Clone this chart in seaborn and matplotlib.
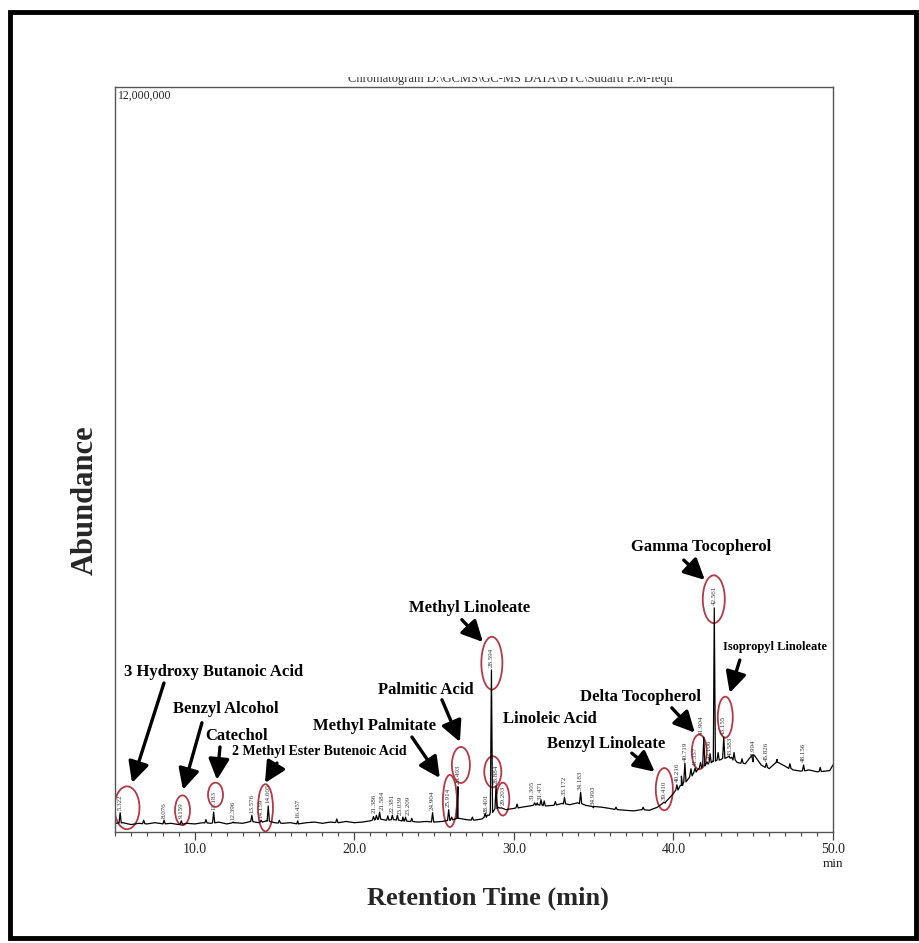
import numpy as np
import pandas as pd
import seaborn as sns
import matplotlib.pyplot as plt
from matplotlib.patches import Ellipse, Rectangle
from matplotlib.ticker import MultipleLocator, FixedLocator
from matplotlib.transforms import Bbox, TransformedBbox

# ---- baseline of the total ion chromatogram (time in min, abundance in millions)
baseline_time = [5.0, 5.5, 6.0, 6.5, 7.0, 7.5, 8.0, 8.5, 9.0, 9.5, 10.0, 10.5, 11.0, 11.5,
                 12.0, 12.5, 13.0, 13.5, 14.0, 14.5, 15.0, 15.5, 16.0, 16.5, 17.0, 17.5,
                 18.0, 18.5, 19.0, 19.5, 20.0, 20.5, 21.0, 21.5, 22.0, 22.5, 23.0, 23.5,
                 24.0, 24.5, 25.0, 25.5, 26.0, 26.5, 27.0, 27.5, 28.0, 28.3, 29.0, 29.5,
                 30.0, 30.5, 31.0, 31.5, 32.0, 32.5, 33.0, 33.5, 34.0, 34.5, 35.0, 35.5,
                 36.0, 36.5, 37.0, 37.5, 38.0, 38.5, 39.0, 39.5, 40.0, 40.5, 41.0, 41.5,
                 42.0, 42.5, 43.0, 43.5, 44.0, 44.5, 45.0, 45.5, 46.0, 46.5, 47.0, 47.5,
                 48.0, 48.5, 49.0, 49.5, 49.8, 50.0]
baseline_level = [0.14, 0.15, 0.12, 0.14, 0.13, 0.15, 0.13, 0.14, 0.12, 0.14, 0.13, 0.15, 0.14, 0.16,
                  0.13, 0.15, 0.14, 0.17, 0.15, 0.18, 0.15, 0.14, 0.15, 0.13, 0.15, 0.16,
                  0.14, 0.16, 0.15, 0.17, 0.15, 0.16, 0.18, 0.21, 0.19, 0.20, 0.18, 0.17,
                  0.16, 0.17, 0.16, 0.17, 0.19, 0.22, 0.20, 0.19, 0.21, 0.25, 0.40, 0.36,
                  0.38, 0.40, 0.42, 0.44, 0.42, 0.43, 0.46, 0.44, 0.47, 0.43, 0.41, 0.40,
                  0.38, 0.36, 0.35, 0.34, 0.36, 0.35, 0.40, 0.48, 0.62, 0.75, 0.88, 1.00,
                  1.08, 1.14, 1.17, 1.22, 1.12, 1.10, 1.24, 1.08, 1.02, 1.12, 1.06, 1.00,
                  0.98, 1.00, 0.97, 0.98, 0.99, 1.08]

# ---- integrated peaks: retention time and apex abundance (millions)
peak_time = [5.322, 8.076, 9.159, 11.183, 12.396, 13.576, 14.159, 14.605, 16.457,
             21.386, 21.584, 22.381, 23.039, 23.209, 24.904, 25.914, 26.493, 28.401,
             28.594, 28.884, 29.203, 31.305, 31.471, 33.172, 34.183, 34.993, 39.410,
             40.216, 40.719, 41.357, 41.904, 42.106, 42.561, 43.155, 43.583, 44.994,
             45.826, 48.156]
peak_height = [0.31, 0.19, 0.18, 0.32, 0.16, 0.27, 0.19, 0.42, 0.18,
               0.27, 0.32, 0.27, 0.24, 0.24, 0.31, 0.36, 0.73, 0.27,
               2.61, 0.74, 0.39, 0.47, 0.47, 0.56, 0.64, 0.39, 0.48,
               0.76, 1.11, 1.03, 1.53, 1.13, 3.61, 1.53, 1.19, 1.13,
               1.11, 1.08]
peak_label = ["5.322", "8.076", "9.159", "11.183", "12.396", "13.576", "14.159", "14.605", "16.457",
              "21.386", "21.584", "22.381", "23.039", "23.209", "24.904", "25.914", "26.493", "28.401",
              "28.594", "28.884", "29.203", "31.305", "31.471", "33.172", "34.183", "34.993", "39.410",
              "40.216", "40.719", "41.357", "41.904", "42.106", "42.561", "43.155", "43.583", "44.994",
              "45.826", "48.156"]

# small unlabelled spikes riding on the baseline (time, apex in millions)
spike_time = [6.8, 10.7, 15.3, 18.9, 21.2, 22.1, 22.7, 23.6, 26.1, 27.4, 28.2,
              30.2, 31.7, 31.9, 32.6, 36.4, 38.1, 40.5, 41.1, 41.7, 42.3, 42.8,
              43.8, 44.3, 46.5, 47.3, 49.2]
spike_height = [0.19, 0.20, 0.19, 0.21, 0.25, 0.26, 0.27, 0.22, 0.24, 0.24, 0.30,
                0.45, 0.52, 0.50, 0.49, 0.40, 0.40, 0.90, 1.02, 1.12, 1.26, 1.28,
                1.28, 1.18, 1.17, 1.10, 1.04]

# ---- identified compounds: name, label position, arrow tail/head
compound_name = ["3 Hydroxy Butanoic Acid", "Benzyl Alcohol", "Catechol",
                 "2 Methyl Ester Butenoic Acid", "Methyl Palmitate", "Palmitic Acid",
                 "Methyl Linoleate", "Linoleic Acid", "Benzyl Linoleate",
                 "Delta Tocopherol", "Gamma Tocopherol", "Isopropyl Linoleate"]
compound_text_time = [11.2, 11.95, 12.64, 17.78, 21.29, 24.49, 27.24, 32.26, 35.76, 37.96, 41.72, 46.35]
compound_text_level = [2.58, 1.98, 1.55, 1.29, 1.71, 2.29, 3.61, 1.82, 1.42, 2.17, 4.59, 2.98]
compound_text_size = [12, 12, 12, 10, 12, 12, 12, 12, 12, 12, 12, 9]
arrow_tail_time = [8.07, 10.45, 11.58, 15.15, 23.61, 25.49, 26.74, None, 37.39, 39.9, 40.65, 44.16]
arrow_tail_level = [2.40, 1.76, 1.37, 1.11, 1.53, 2.13, 3.42, None, 1.27, 2.00, 4.38, 2.77]
arrow_head_time = [6.07, 9.26, 11.39, 14.40, 25.36, 26.62, 28.06, None, 38.83, 41.34, 41.97, 43.53]
arrow_head_level = [0.79, 0.68, 0.84, 0.79, 0.87, 1.45, 3.06, None, 0.97, 1.60, 4.06, 2.24]

# circles drawn around the identified peaks (centre, width in min, height in millions)
ring_time = [5.75, 9.23, 11.30, 14.43, 25.99, 26.68, 28.62, 28.68, 29.31, 39.43, 41.62, 42.53, 43.25]
ring_level = [0.39, 0.35, 0.60, 0.39, 0.50, 1.08, 2.72, 0.97, 0.53, 0.69, 1.29, 3.75, 1.85]
ring_width = [1.57, 0.94, 0.94, 0.94, 0.88, 1.13, 1.32, 1.07, 0.81, 1.07, 0.94, 1.38, 0.94]
ring_height = [0.69, 0.48, 0.39, 0.76, 0.84, 0.58, 0.85, 0.50, 0.53, 0.68, 0.56, 0.77, 0.66]

x_ticks = [10.0, 20.0, 30.0, 40.0, 50.0]
x_tick_labels = ["10.0", "20.0", "30.0", "40.0", "50.0"]

# ---- assemble the trace: baseline with a narrow spike at each peak
half_width = 0.07
t_pts = list(baseline_time)
v_pts = list(baseline_level)
for t, h in zip(peak_time + spike_time, peak_height + spike_height):
    foot = float(np.interp(t, baseline_time, baseline_level))
    t_pts += [t - half_width, t, t + half_width]
    v_pts += [foot, h, foot]
trace = pd.DataFrame({"time": t_pts, "abundance": np.array(v_pts) * 1e6})
trace = trace.sort_values("time").reset_index(drop=True)

sns.set_theme(style="white")
plt.rcParams["font.family"] = ["Liberation Serif", "DejaVu Serif"]

fig = plt.figure(figsize=(9.2, 9.43), dpi=100)
ax = fig.add_axes([0.125, 0.1177, 0.7804, 0.79])

sns.lineplot(data=trace, x="time", y="abundance", ax=ax, color="black",
             linewidth=0.9, estimator=None, sort=False)

ax.set_xlim(5.0, 50.0)
ax.set_ylim(0, 12e6)
ax.set_xlabel("")
ax.set_ylabel("")
ax.set_yticks([])
ax.xaxis.set_major_locator(FixedLocator(x_ticks))
ax.set_xticklabels(x_tick_labels, fontsize=10, color="#222222")
ax.xaxis.set_minor_locator(MultipleLocator(1.0))
ax.tick_params(axis="x", which="major", direction="out", length=6, width=0.9,
               color="#444444", pad=2, bottom=True)
ax.tick_params(axis="x", which="minor", direction="out", length=3, width=0.8,
               color="#444444", bottom=True)
for side in ax.spines.values():
    side.set_color("#555555")
    side.set_linewidth(1.0)

ax.text(1.0, -0.043, "min", transform=ax.transAxes, ha="center", va="center",
        fontsize=9.5, color="#222222")
ax.text(0.004, 0.997, "12,000,000", transform=ax.transAxes, ha="left", va="top",
        fontsize=8.5, color="#222222")

# retention-time labels on every peak; close neighbours lean apart
for i, (t, h, lab) in enumerate(zip(peak_time, peak_height, peak_label)):
    near_next = i + 1 < len(peak_time) and peak_time[i + 1] - t < 0.35
    near_prev = i > 0 and t - peak_time[i - 1] < 0.35
    if near_next and not near_prev:
        align = "right"
    elif near_prev and not near_next:
        align = "left"
    else:
        align = "center"
    ax.text(t, h * 1e6 + 4e4, lab, rotation=90, ha=align, va="bottom",
            fontsize=5, color="#333333")

# circles around the identified peaks
for t, v, w, hh in zip(ring_time, ring_level, ring_width, ring_height):
    ax.add_patch(Ellipse((t, v * 1e6), w, hh * 1e6, fill=False,
                         edgecolor="#b23a48", linewidth=1.3))

# compound names and arrows
for i, name in enumerate(compound_name):
    ax.text(compound_text_time[i], compound_text_level[i] * 1e6, name,
            ha="center", va="center", fontsize=compound_text_size[i],
            fontweight="bold", color="black")
    if arrow_tail_time[i] is not None:
        ax.annotate("", xy=(arrow_head_time[i], arrow_head_level[i] * 1e6),
                    xytext=(arrow_tail_time[i], arrow_tail_level[i] * 1e6),
                    arrowprops=dict(arrowstyle="-|>,head_length=0.9,head_width=0.45",
                                    color="black", lw=2.4, shrinkA=0, shrinkB=0,
                                    mutation_scale=14))

# file header above the plot frame (only its lower half shows)
header = fig.text(0.555, 1 - 79 / 943,
                  "Chromatogram D:\\GCMS\\GC-MS DATA\\BTC\\Sudarti P.M-Iequ",
                  ha="center", va="center", fontsize=9, color="#333333")
header.set_clip_box(TransformedBbox(Bbox([[0, 0], [1, 1 - 77 / 943]]), fig.transFigure))
header.set_clip_on(True)

fig.text(85 / 920, 1 - 500 / 943, "Abundance", rotation=90, ha="center", va="center",
         fontsize=22, fontweight="bold")
fig.text(488 / 920, 1 - 898 / 943, "Retention Time (min)", ha="center", va="center",
         fontsize=19, fontweight="bold")

# outer frame of the figure
fig.add_artist(Rectangle((10 / 920, 5 / 943), 906 / 920, 926 / 943,
                         transform=fig.transFigure, fill=False,
                         edgecolor="black", linewidth=3.5))

fig.savefig("out.png", dpi=100, facecolor="white")
